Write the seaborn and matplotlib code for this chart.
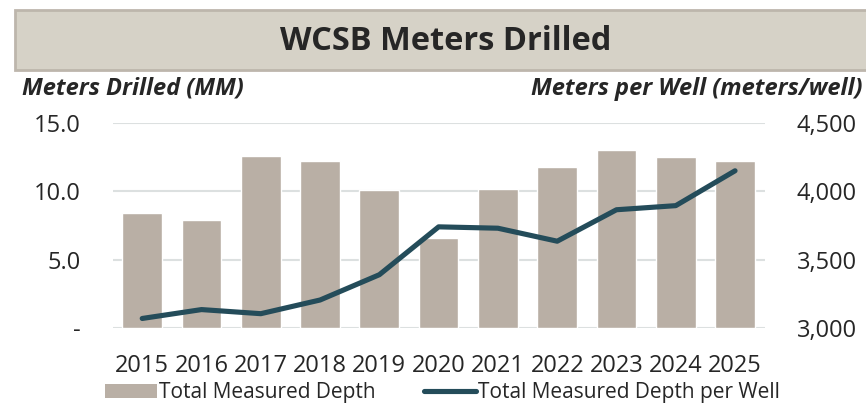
import numpy as np
import pandas as pd
import matplotlib.pyplot as plt
import seaborn as sns
from matplotlib.patches import Rectangle, Patch
from matplotlib.lines import Line2D

# Data
years = ["2015", "2016", "2017", "2018", "2019", "2020",
         "2021", "2022", "2023", "2024", "2025"]
depth_mm = [8.4, 7.9, 12.6, 12.2, 10.1, 6.6, 10.2, 11.8, 13.0, 12.5, 12.2]
depth_per_well = [3070, 3135, 3105, 3205, 3390, 3740, 3730, 3635, 3865, 3895, 4150]

left_ticks = [0, 5, 10, 15]
left_labels = ["-", "5.0", "10.0", "15.0"]
right_ticks = [3000, 3500, 4000, 4500]
right_labels = ["3,000", "3,500", "4,000", "4,500"]

bar_color = "#B9AFA5"
line_color = "#244C5A"
grid_color = "#DCE0E0"
text_color = "#262626"

df = pd.DataFrame({"year": years, "depth": depth_mm,
                   "per_well": depth_per_well, "pos": np.arange(len(years))})

sns.set_theme(style="white")
plt.rcParams["font.family"] = ["Open Sans", "DejaVu Sans"]

fig = plt.figure(figsize=(8.66, 4.03), dpi=100)
ax = fig.add_axes([0.130, 0.186, 0.753, 0.509])

sns.barplot(data=df, x="year", y="depth", color=bar_color, width=0.67,
            saturation=1, ax=ax, zorder=2)
ax.set_ylim(0, 15)
ax.set_xlim(-0.5, len(years) - 0.5)
ax.set_yticks(left_ticks)
ax.set_yticklabels(left_labels)
ax.yaxis.grid(True, color=grid_color, linewidth=1.5, zorder=0)
ax.set_axisbelow(True)
ax.set_xlabel("")
ax.set_ylabel("")
for s in ax.spines.values():
    s.set_visible(False)
ax.tick_params(axis="y", length=0, pad=23, labelsize=17, labelcolor=text_color)
ax.tick_params(axis="x", length=0, pad=19, labelsize=17, labelcolor=text_color)

ax2 = ax.twinx()
sns.lineplot(data=df, x="pos", y="per_well", color=line_color, linewidth=3.7,
             solid_capstyle="round", ax=ax2)
ax2.set_ylim(3000, 4500)
ax2.set_yticks(right_ticks)
ax2.set_yticklabels(right_labels)
ax2.set_ylabel("")
for s in ax2.spines.values():
    s.set_visible(False)
ax2.tick_params(axis="y", length=0, pad=23, labelsize=17, labelcolor=text_color)
ax2.set_xlim(-0.5, len(years) - 0.5)

# Title banner
fig.patches.append(Rectangle((0.017, 0.826), 0.99, 0.149, transform=fig.transFigure,
                             facecolor="#D6D2C7", edgecolor="#BDB6AC", linewidth=2))
fig.text(0.515, 0.898, "WCSB Meters Drilled", ha="center", va="center",
         fontsize=23.5, fontweight="bold", color=text_color)

fig.text(0.025, 0.78, "Meters Drilled (MM)", ha="left", va="center",
         fontsize=17, fontweight="bold", fontstyle="italic", color=text_color)
fig.text(0.996, 0.78, "Meters per Well (meters/well)", ha="right", va="center",
         fontsize=17, fontweight="bold", fontstyle="italic", color=text_color)

handles = [Patch(facecolor=bar_color, edgecolor="none"),
           Line2D([0], [0], color=line_color, linewidth=3.7)]
fig.legend(handles, ["Total Measured Depth", "Total Measured Depth per Well"],
           loc="center", bbox_to_anchor=(0.511, 0.025), ncol=2, frameon=False,
           fontsize=15, handlelength=2.5, handletextpad=0.1, columnspacing=2.3,
           labelcolor=text_color)

fig.savefig("out.png", dpi=100)
